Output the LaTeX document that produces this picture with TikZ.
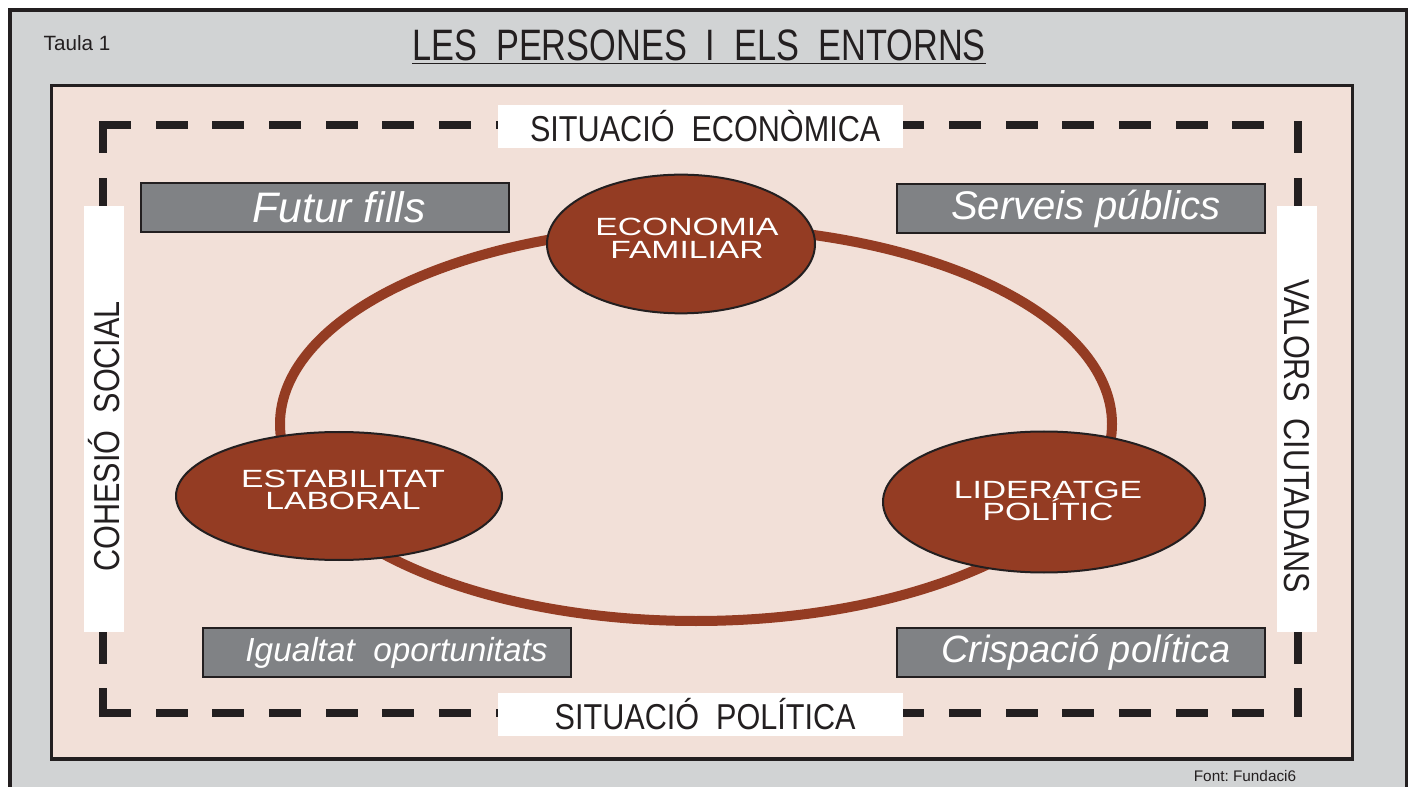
\documentclass[tikz,border=0pt]{standalone}
\usepackage{fontspec}
\setmainfont{Liberation Sans}
\newfontfamily\narrowfont[FakeStretch=0.85]{Liberation Sans}
\newfontfamily\titlefont[FakeStretch=0.78]{Liberation Sans}
\newfontfamily\widefont[FakeStretch=1.35]{Liberation Sans}
\usetikzlibrary{shapes.geometric}
\definecolor{framegray}{HTML}{D1D3D4}
\definecolor{pinkbg}{HTML}{F2E0D8}
\definecolor{brownc}{HTML}{943C23}
\definecolor{boxgray}{HTML}{808285}
\definecolor{inkc}{HTML}{231F20}
\begin{document}
\begin{tikzpicture}[x=0.75pt,y=-0.75pt,
  frameline/.style={draw=inkc,line width=2.5pt},
  dashside/.style={draw=inkc,line width=6pt,line cap=rect,dash pattern=on 18pt off 24.5pt},
  whitelabel/.style={fill=white,inner sep=0pt,text=inkc,font=\narrowfont\fontsize{27}{29}\selectfont},
  graybox/.style={draw=inkc,fill=boxgray,line width=1.5pt,inner sep=0pt,minimum width=276pt,minimum height=36.75pt,text=white},
  oval/.style={ellipse,draw=inkc,fill=brownc,line width=1.5pt,inner sep=0pt},
  ovaltext/.style={text=white,align=center,inner sep=0pt,font=\widefont\fontsize{18.7}{17}\selectfont},
]
\useasboundingbox (0,0) rectangle (1413,787);
\fill[white] (0,0) rectangle (1413,787);
\draw[frameline,fill=framegray] (10,10) rectangle (1406.5,800);
\draw[frameline,fill=pinkbg] (51.5,85.5) rectangle (1352.5,759);

% dashed frame
\coordinate (tl) at (103,125.5);
\coordinate (tr) at (1298,125.5);
\coordinate (bl) at (103,712.5);
\coordinate (br) at (1298,712.5);
\coordinate (tre) at (1270,125.5);
\coordinate (bre) at (1270,712.5);
\draw[dashside] (tl) -- (tre);
\draw[dashside] (tl) -- (bl);
\draw[dashside] (bl) -- (bre);
\draw[dashside] (tr) -- (br);

% title
\node[text=inkc,inner sep=0pt,font=\fontsize{15.5}{18}\selectfont] (taula) at (77,43) {Taula 1};
\node[text=inkc,inner sep=0pt,font=\titlefont\fontsize{33}{36}\selectfont] (title) at (699,47) {\underline{LES~~PERSONES~~I~~ELS~~ENTORNS}};
\node[text=inkc,inner sep=0pt,font=\fontsize{11.5}{13}\selectfont] (font) at (1245,776) {Font:~Fundaci6};

% white labels
\node[whitelabel,minimum width=303.75pt,minimum height=32.25pt] (seco) at (700.5,126.5) {\hspace*{7pt}SITUACIÓ~~ECONÒMICA};
\node[whitelabel,minimum width=303.75pt,minimum height=32.25pt] (spol) at (700.5,714.5) {\hspace*{7pt}SITUACIÓ~~POLÍTICA};
\node[whitelabel,minimum width=319.5pt,minimum height=30pt,rotate=90] (cohesio) at (104,419) {COHESIÓ~~SOCIAL\hspace*{26pt}};
\node[whitelabel,minimum width=319.5pt,minimum height=30pt,rotate=-90] (valors) at (1296.5,419) {\hspace*{26pt}VALORS~~CIUTADANS};

% gray boxes
\node[graybox,font=\itshape\fontsize{32}{34}\selectfont] (futur) at (325,207.5) {\hspace*{21pt}Futur fills};
\node[graybox,font=\itshape\fontsize{30}{32}\selectfont] (serveis) at (1081,209) {\hspace*{7pt}Serveis públics};
\node[graybox,font=\itshape\fontsize{25}{28}\selectfont] (igualtat) at (386.5,652.5) {\hspace*{15pt}Igualtat~~oportunitats};
\node[graybox,font=\itshape\fontsize{28.5}{31}\selectfont] (crispacio) at (1081,652.5) {\hspace*{7pt}Crispació política};

% ring
\draw[brownc,line width=7.5pt] (696,424) ellipse [x radius=416, y radius=197];

% ovals
\node[oval,minimum width=201pt,minimum height=104pt] (econ) at (681,244) {};
\node[oval,minimum width=244.5pt,minimum height=96pt] (estab) at (339,496) {};
\node[oval,minimum width=241.5pt,minimum height=105.75pt] (lider) at (1044,502) {};
\node[ovaltext] (econt) at (687,238) {ECONOMIA\\FAMILIAR};
\node[ovaltext] (estabt) at (343,490) {ESTABILITAT\\LABORAL};
\node[ovaltext] (lidert) at (1048,501) {LIDERATGE\\POLÍTIC};
\end{tikzpicture}
\end{document}
